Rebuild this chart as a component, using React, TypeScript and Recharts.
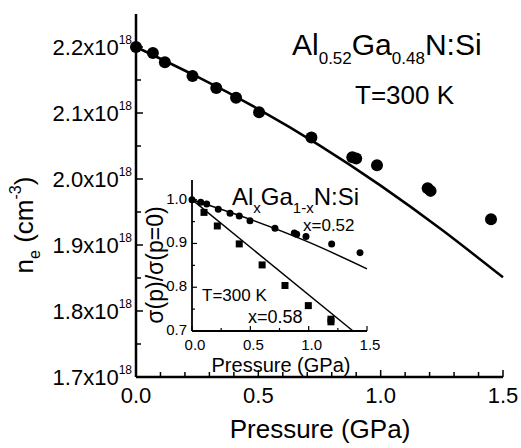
import React from 'react';
import { ComposedChart, Line, Scatter, XAxis, YAxis } from 'recharts';

// main plot: carrier density (x10^18 cm^-3) vs pressure (GPa)
const mainPressure = [0, 0.069, 0.118, 0.231, 0.328, 0.409, 0.503, 0.717, 0.884, 0.9, 0.985, 1.192, 1.204, 1.451];
const mainDensity = [2.2, 2.191, 2.177, 2.156, 2.138, 2.123, 2.101, 2.063, 2.033, 2.031, 2.021, 1.986, 1.982, 1.939];
const fitPressure = [0, 0.25, 0.5, 0.75, 1.0, 1.25, 1.5];
const fitDensity = [2.2, 2.155, 2.106, 2.051, 1.99, 1.923, 1.851];

const mainXTicks = [0, 0.1, 0.2, 0.3, 0.4, 0.5, 0.6, 0.7, 0.8, 0.9, 1.0, 1.1, 1.2, 1.3, 1.4, 1.5];
const mainYTicks = [1.7, 1.75, 1.8, 1.85, 1.9, 1.95, 2.0, 2.05, 2.1, 2.15, 2.2];

// inset: normalised conductivity
const x52Pressure = [0, 0.075, 0.126, 0.225, 0.326, 0.405, 0.497, 0.711, 0.877, 0.897, 0.977, 1.197, 1.44];
const x52Sigma = [1.0, 0.994, 0.99, 0.978, 0.969, 0.963, 0.952, 0.935, 0.924, 0.921, 0.916, 0.899, 0.879];
const x52FitPressure = [0, 0.5, 1.0, 1.5];
const x52FitSigma = [1.0, 0.955, 0.903, 0.842];
const x58Pressure = [0.103, 0.217, 0.405, 0.601, 0.797, 0.997, 1.191, 1.191];
const x58Sigma = [0.971, 0.94, 0.899, 0.851, 0.804, 0.758, 0.721, 0.727];
const x58FitPressure = [0, 1.38];
const x58FitSigma = [1.0, 0.7];

const insetXTicks = [0, 0.25, 0.5, 0.75, 1.0, 1.25, 1.5];
const insetYTicks = [0.7, 0.75, 0.8, 0.85, 0.9, 0.95, 1.0];

const FONT = '"Liberation Sans", Arial, Helvetica, sans-serif';

const zip = (xs: number[], ys: number[]) => xs.map((p, i) => ({ p, v: ys[i] }));

const isStep = (v: number, step: number) => Math.abs(v / step - Math.round(v / step)) < 1e-6;

type TickOpts = {
  side: 'bottom' | 'top' | 'left' | 'right';
  step: number;
  major: number;
  minor: number;
  width: number;
  label?: (v: number) => React.ReactNode;
  fontSize?: number;
  gap?: number;
  shift?: number;
};

function makeTick(o: TickOpts) {
  return (props: any) => {
    const { x, y, payload } = props;
    const v = payload.value as number;
    const big = isStep(v, o.step);
    const len = big ? o.major : o.minor;
    const shift = o.shift || 0;
    let line = null;
    let text = null;
    if (o.side === 'bottom') {
      line = <line x1={x} y1={y} x2={x} y2={y - len} stroke="#000" strokeWidth={o.width} />;
      if (big && o.label) text = <text x={x + shift} y={y + (o.gap || 0)} textAnchor="middle" fontSize={o.fontSize} fontFamily={FONT} fill="#000">{o.label(v)}</text>;
    } else if (o.side === 'top') {
      line = <line x1={x} y1={y} x2={x} y2={y + len} stroke="#000" strokeWidth={o.width} />;
    } else if (o.side === 'left') {
      line = <line x1={x} y1={y} x2={x + len} y2={y} stroke="#000" strokeWidth={o.width} />;
      if (big && o.label) text = <text x={x - 4 + shift} y={y + (o.gap || 0)} textAnchor="end" fontSize={o.fontSize} fontFamily={FONT} fill="#000">{o.label(v)}</text>;
    } else {
      line = <line x1={x} y1={y} x2={x - len} y2={y} stroke="#000" strokeWidth={o.width} />;
    }
    return <g>{line}{text}</g>;
  };
}

const dot = (r: number) => (props: any) => <circle cx={props.cx} cy={props.cy} r={r} fill="#000" />;
const square = (s: number) => (props: any) => <rect x={props.cx - s / 2} y={props.cy - s / 2} width={s} height={s} fill="#000" />;

function MainChart() {
  const axisLine = { stroke: '#000', strokeWidth: 2.5 };
  return (
    <ComposedChart width={521} height={448} margin={{ top: 14, right: 18, bottom: 0, left: 0 }}>
      <XAxis xAxisId="b" type="number" dataKey="p" domain={[0, 1.5]} ticks={mainXTicks} interval={0}
        height={71} axisLine={axisLine} tickLine={false} tickSize={0} tickMargin={0}
        tick={makeTick({ side: 'bottom', step: 0.5, major: 7, minor: 5, width: 1.5, fontSize: 22, gap: 26, label: (v) => v.toFixed(1) })} />
      <XAxis xAxisId="t" orientation="top" type="number" dataKey="p" domain={[0, 1.5]} ticks={mainXTicks} interval={0}
        height={0} axisLine={axisLine} tickLine={false} tickSize={0} tickMargin={0}
        tick={makeTick({ side: 'top', step: 0.5, major: 7, minor: 5, width: 1.5 })} />
      <YAxis yAxisId="l" type="number" domain={[1.7, 2.25]} ticks={mainYTicks} interval={0}
        width={136} axisLine={axisLine} tickLine={false} tickSize={0} tickMargin={0}
        tick={makeTick({ side: 'left', step: 0.1, major: 7, minor: 5, width: 1.5, fontSize: 22, gap: 8,
          label: (v) => <>{v.toFixed(1)}x10<tspan dy={-11} fontSize={12}>18</tspan></> })} />
      <YAxis yAxisId="r" orientation="right" type="number" domain={[1.7, 2.25]} ticks={mainYTicks} interval={0}
        width={0} axisLine={axisLine} tickLine={false} tickSize={0} tickMargin={0}
        tick={makeTick({ side: 'right', step: 0.1, major: 7, minor: 5, width: 1.5 })} />
      <Line xAxisId="b" yAxisId="l" data={zip(fitPressure, fitDensity)} dataKey="v" type="natural"
        stroke="#000" strokeWidth={2.5} dot={false} isAnimationActive={false} />
      <Scatter xAxisId="b" yAxisId="l" data={zip(mainPressure, mainDensity)} dataKey="v"
        shape={dot(6)} isAnimationActive={false} />
    </ComposedChart>
  );
}

function InsetChart() {
  const axisLine = { stroke: '#000', strokeWidth: 1.8 };
  return (
    <ComposedChart width={240} height={200} margin={{ top: 10, right: 13, bottom: 0, left: 0 }}>
      <XAxis xAxisId="b" type="number" dataKey="p" domain={[0, 1.5]} ticks={insetXTicks} interval={0}
        height={39} axisLine={axisLine} tickLine={false} tickSize={0} tickMargin={0}
        tick={makeTick({ side: 'bottom', step: 0.5, major: 5, minor: 3, width: 1.2, fontSize: 15, gap: 19, shift: 3, label: (v) => v.toFixed(1) })} />
      <XAxis xAxisId="t" orientation="top" type="number" dataKey="p" domain={[0, 1.5]} ticks={insetXTicks} interval={0}
        height={0} axisLine={axisLine} tickLine={false} tickSize={0} tickMargin={0}
        tick={makeTick({ side: 'top', step: 0.5, major: 5, minor: 3, width: 1.2 })} />
      <YAxis yAxisId="l" type="number" domain={[0.7, 1.045]} ticks={insetYTicks} interval={0}
        width={52} axisLine={axisLine} tickLine={false} tickSize={0} tickMargin={0}
        tick={makeTick({ side: 'left', step: 0.1, major: 5, minor: 3, width: 1.2, fontSize: 15, gap: 4, shift: -1, label: (v) => v.toFixed(1) })} />
      <YAxis yAxisId="r" orientation="right" type="number" domain={[0.7, 1.045]} ticks={insetYTicks} interval={0}
        width={0} axisLine={axisLine} tickLine={false} tickSize={0} tickMargin={0}
        tick={makeTick({ side: 'right', step: 0.1, major: 5, minor: 3, width: 1.2 })} />
      <Line xAxisId="b" yAxisId="l" data={zip(x52FitPressure, x52FitSigma)} dataKey="v" type="monotone"
        stroke="#000" strokeWidth={1.5} dot={false} isAnimationActive={false} />
      <Line xAxisId="b" yAxisId="l" data={zip(x58FitPressure, x58FitSigma)} dataKey="v" type="linear"
        stroke="#000" strokeWidth={1.5} dot={false} isAnimationActive={false} />
      <Scatter xAxisId="b" yAxisId="l" data={zip(x52Pressure, x52Sigma)} dataKey="v" shape={dot(3.5)} isAnimationActive={false} />
      <Scatter xAxisId="b" yAxisId="l" data={zip(x58Pressure, x58Sigma)} dataKey="v" shape={square(7)} isAnimationActive={false} />
    </ComposedChart>
  );
}

function Labels() {
  return (
    <svg width={521} height={448} style={{ position: 'absolute', left: 0, top: 0, pointerEvents: 'none' }} fontFamily={FONT} fill="#000">
      {/* main annotations */}
      <text x={292} y={55} fontSize={30}>
        Al<tspan dy={9} fontSize={17}>0.52</tspan><tspan dy={-9}>Ga</tspan><tspan dy={9} fontSize={17}>0.48</tspan><tspan dy={-9}>N:Si</tspan>
      </text>
      <text x={355} y={104} fontSize={26}>T=300 K</text>
      <text x={320} y={438} fontSize={26} textAnchor="middle">Pressure (GPa)</text>
      <text x={33} y={225} fontSize={26} textAnchor="middle" transform="rotate(-90 33 225)">
        n<tspan dy={7} fontSize={16}>e</tspan><tspan dy={-7}> (cm</tspan><tspan dy={-12} fontSize={16}>-3</tspan><tspan dy={12}>)</tspan>
      </text>
      {/* inset annotations */}
      <text x={232} y={205} fontSize={24}>
        Al<tspan dy={8} fontSize={15}>x</tspan><tspan dy={-8}>Ga</tspan><tspan dy={8} fontSize={15}>1-x</tspan><tspan dy={-8}>N:Si</tspan>
      </text>
      <text x={303} y={231} fontSize={17}>x=0.52</text>
      <text x={202} y={301} fontSize={17}>T=300 K</text>
      <text x={248} y={323} fontSize={18}>x=0.58</text>
      <text x={281} y={372} fontSize={20} textAnchor="middle">Pressure (GPa)</text>
      <text x={163} y={265} fontSize={23} textAnchor="middle" transform="rotate(-90 163 265)">σ(p)/σ(p=0)</text>
    </svg>
  );
}

export default function App() {
  return (
    <div style={{ position: 'absolute', left: 0, top: 0, width: 521, height: 448, background: '#fff' }}>
      <div style={{ position: 'absolute', left: 0, top: 0 }}>
        <MainChart />
      </div>
      <div style={{ position: 'absolute', left: 140, top: 170 }}>
        <InsetChart />
      </div>
      <Labels />
    </div>
  );
}
